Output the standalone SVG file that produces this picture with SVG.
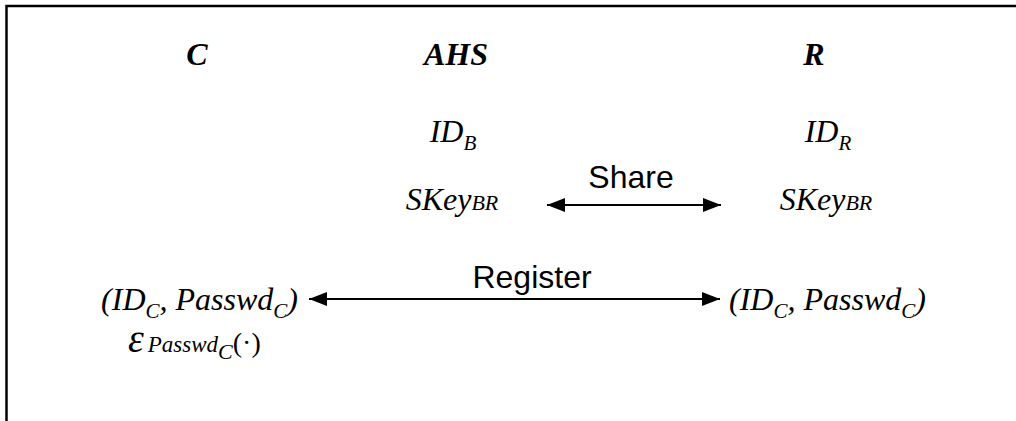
<svg xmlns="http://www.w3.org/2000/svg" width="1016" height="421" viewBox="0 0 1016 421">
  <style>
    .ent { font-family: "Liberation Serif", "Times New Roman", serif; font-style: italic; font-weight: bold; font-size: 32px; fill: #000; text-anchor: middle; }
    .var { font-family: "Liberation Serif", "Times New Roman", serif; font-style: italic; font-size: 32px; fill: #000; }
    .mid { text-anchor: middle; }
    .end { text-anchor: end; }
    .sub { font-size: 21px; }
    .lbl { font-family: "Liberation Sans", Arial, sans-serif; font-size: 32px; fill: #000; text-anchor: middle; }
    .conn { stroke: #000; stroke-width: 2; fill: none; }
  </style>
  <defs>
    <marker id="arr" viewBox="0 0 18 14" refX="18" refY="7" markerWidth="18" markerHeight="14" markerUnits="userSpaceOnUse" orient="auto-start-reverse">
      <path d="M0,0 L18,7 L0,14 z" fill="#000"/>
    </marker>
  </defs>
  <rect width="1016" height="421" fill="#fff"/>
  <!-- open frame: top and left edges only -->
  <path d="M6.5,421 V6 H1016" stroke="#000" stroke-width="2.5" fill="none"/>

  <g id="client">
    <text class="ent" x="197" y="65">C</text>
    <text class="var end" x="298" y="310">(ID<tspan class="sub" dy="8">C</tspan><tspan dy="-8">, Passwd</tspan><tspan class="sub" dy="8">C</tspan><tspan dy="-8">)</tspan></text>
    <text class="var" x="128" y="352"><tspan font-size="40">ε</tspan><tspan font-size="23" dx="4">Passwd</tspan><tspan font-size="22" dy="7">C</tspan><tspan dy="-7" font-style="normal" font-size="28">(·)</tspan></text>
  </g>

  <g id="ahs">
    <text class="ent" x="456" y="65">AHS</text>
    <text class="var mid" x="453" y="142">ID<tspan class="sub" dy="8">B</tspan></text>
    <text class="var mid" x="452" y="210">SKey<tspan font-size="22">BR</tspan></text>
  </g>

  <g id="registrar">
    <text class="ent" x="814" y="65">R</text>
    <text class="var mid" x="828" y="142">ID<tspan class="sub" dy="8">R</tspan></text>
    <text class="var mid" x="826" y="210">SKey<tspan font-size="22">BR</tspan></text>
    <text class="var" x="729" y="310">(ID<tspan class="sub" dy="8">C</tspan><tspan dy="-8">, Passwd</tspan><tspan class="sub" dy="8">C</tspan><tspan dy="-8">)</tspan></text>
  </g>

  <g id="connectors">
    <line class="conn" x1="547" y1="205" x2="721" y2="205" marker-start="url(#arr)" marker-end="url(#arr)"/>
    <text class="lbl" x="631" y="188">Share</text>
    <line class="conn" x1="309" y1="299" x2="720" y2="299" marker-start="url(#arr)" marker-end="url(#arr)"/>
    <text class="lbl" x="532" y="288">Register</text>
  </g>
</svg>
